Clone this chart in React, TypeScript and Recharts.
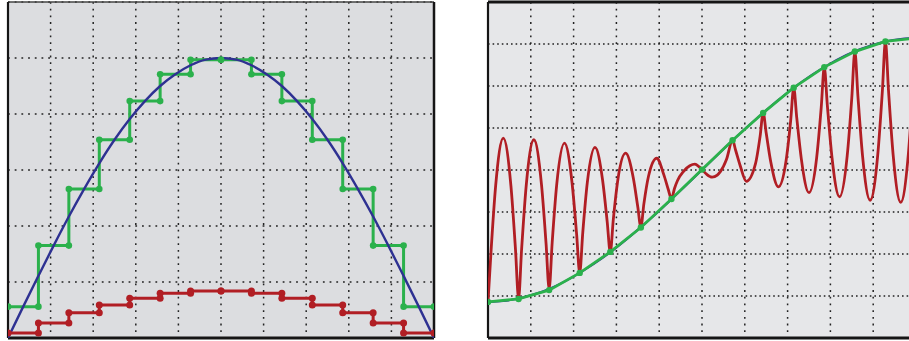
import React from 'react';
import { LineChart, Line, XAxis, YAxis, CartesianGrid, ReferenceLine } from 'recharts';

// ---- shared axis ticks (grid) ----
const gridX = [0, 1.4, 2.8, 4.2, 5.6, 7, 8.4, 9.8, 11.2, 12.6, 14];
const gridYLeft = [0, 1, 2, 3, 4, 5, 6];
const gridYRight = [0, 1, 2, 3, 4, 5, 6, 7, 8];

// ---- left panel ----
const sampleIdx = [0, 1, 2, 3, 4, 5, 6, 7, 8, 9, 10, 11, 12, 13, 14];
const heldLevels = [0.56, 1.65, 2.66, 3.54, 4.23, 4.71, 4.97, 4.97, 4.71, 4.23, 3.54, 2.66, 1.65, 0.56];
const smallLevels = [0.09, 0.27, 0.45, 0.59, 0.71, 0.8, 0.84, 0.84, 0.8, 0.71, 0.59, 0.45, 0.27, 0.09];
const halfX = [0, 0.5, 1, 1.5, 2, 2.5, 3, 3.5, 4, 4.5, 5, 5.5, 6, 6.5, 7, 7.5, 8, 8.5, 9, 9.5, 10, 10.5, 11, 11.5, 12, 12.5, 13, 13.5, 14];
const waveY = [0, 0.56, 1.11, 1.65, 2.17, 2.66, 3.12, 3.54, 3.91, 4.23, 4.5, 4.71, 4.87, 4.97, 5.0, 4.97, 4.87, 4.71, 4.5, 4.23, 3.91, 3.54, 3.12, 2.66, 2.17, 1.65, 1.11, 0.56, 0];

// ---- right panel ----
const riseSmoothY = [0.86, 0.88, 0.94, 1.04, 1.17, 1.34, 1.55, 1.78, 2.04, 2.33, 2.64, 2.96, 3.3, 3.65, 4.0, 4.35, 4.7, 5.04, 5.36, 5.67, 5.96, 6.22, 6.45, 6.66, 6.83, 6.96, 7.06, 7.12, 7.14];
const riseSamples = [0.86, 0.93, 1.14, 1.55, 2.05, 2.63, 3.31, 4.01, 4.71, 5.36, 5.96, 6.45, 6.82, 7.06, 7.14];
const ringX = [
  0, 0.1, 0.25, 0.5, 0.75, 0.9,
  1, 1.1, 1.25, 1.5, 1.75, 1.9,
  2, 2.1, 2.25, 2.5, 2.75, 2.9,
  3, 3.1, 3.25, 3.5, 3.75, 3.9,
  4, 4.1, 4.25, 4.5, 4.75, 4.9,
  5, 5.1, 5.25, 5.52, 5.75, 5.9,
  6, 6.1, 6.2, 6.4, 6.6, 6.77, 6.9,
  7, 7.15, 7.33, 7.5, 7.6, 7.8,
  8, 8.1, 8.25, 8.45, 8.75, 8.9,
  9, 9.1, 9.25, 9.5, 9.75, 9.9,
  10, 10.1, 10.25, 10.5, 10.75, 10.9,
  11, 11.1, 11.25, 11.5, 11.75, 11.9,
  12, 12.1, 12.25, 12.5, 12.75, 12.9,
  13, 13.1, 13.25, 13.5, 13.75, 13.9,
  14,
];
const ringY = [
  0.86, 2.07, 3.62, 4.76, 3.62, 2.1,
  0.94, 2.12, 3.63, 4.72, 3.65, 2.24,
  1.17, 2.28, 3.67, 4.64, 3.69, 2.46,
  1.55, 2.51, 3.71, 4.54, 3.75, 2.76,
  2.04, 2.83, 3.78, 4.4, 3.82, 3.12,
  2.64, 3.2, 3.85, 4.28, 3.89, 3.53,
  3.31, 3.56, 3.75, 3.97, 4.1, 4.14, 4.08,
  4.01, 3.9, 3.83, 3.88, 3.96, 4.25,
  4.71, 4.47, 4.1, 3.73, 4.15, 4.8,
  5.36, 4.88, 4.19, 3.6, 4.22, 5.17,
  5.96, 5.24, 4.26, 3.46, 4.29, 5.49,
  6.45, 5.54, 4.31, 3.36, 4.34, 5.72,
  6.82, 5.76, 4.35, 3.28, 4.37, 5.88,
  7.06, 5.9, 4.38, 3.23, 4.38, 5.94,
  7.14,
];

const GREEN = '#2bb14c';
const BLUE = '#2e3192';
const RED = '#b11e24';
const BORDER = '#151515';
const GRID = '#222';

const stepPoints = (levels: number[]) => {
  const pts: { x: number; y: number }[] = [];
  levels.forEach((v, i) => {
    pts.push({ x: sampleIdx[i], y: v });
    pts.push({ x: sampleIdx[i + 1], y: v });
  });
  return pts;
};

const heldData = stepPoints(heldLevels);
const smallData = stepPoints(smallLevels);
const waveData = halfX.map((x, i) => ({ x, y: waveY[i] }));
const riseSmoothData = halfX.map((x, i) => ({ x, y: riseSmoothY[i] }));
const riseSampleData = sampleIdx.map((x, i) => ({ x, y: riseSamples[i] }));
const ringData = ringX.map((x, i) => ({ x, y: ringY[i] }));

const xGen = (xMax: number) => (p: any) => {
  const o = p.offset;
  return gridX.map((v) => o.left + (v / xMax) * o.width);
};
const yGen = (ticks: number[], yMax: number) => (p: any) => {
  const o = p.offset;
  return ticks.map((v) => o.top + (1 - v / yMax) * o.height);
};

export default function App() {
  return (
    <div style={{ position: 'absolute', left: 0, top: 0, width: 909, height: 341, overflow: 'hidden', background: '#fff' }}>
      <div style={{ position: 'absolute', left: 0, top: 0 }}>
        <LineChart width={440} height={341} margin={{ top: 2, right: 6, bottom: 3, left: 8 }}>
          <CartesianGrid vertical={false} stroke={GRID} strokeWidth={1.5} strokeDasharray="1.8 4.9" fill="#dcdde0" fillOpacity={1} horizontalCoordinatesGenerator={yGen(gridYLeft, 6)} />
          <CartesianGrid horizontal={false} stroke={GRID} strokeWidth={1.5} strokeDasharray="1.8 4.9" verticalCoordinatesGenerator={xGen(14)} />
          <XAxis type="number" dataKey="x" domain={[0, 14]} ticks={gridX} tick={false} tickLine={false} height={0} axisLine={false} allowDataOverflow />
          <YAxis type="number" domain={[0, 6]} ticks={gridYLeft} tick={false} tickLine={false} width={0} axisLine={false} allowDataOverflow />
          <ReferenceLine y={6} stroke="#444" strokeWidth={1.5} />
          <ReferenceLine x={0} stroke={BORDER} strokeWidth={2.2} />
          <ReferenceLine x={14} stroke={BORDER} strokeWidth={2.5} />
          <ReferenceLine y={0} stroke={BORDER} strokeWidth={3} />
          <Line data={heldData} dataKey="y" type="linear" stroke={GREEN} strokeWidth={3} dot={{ r: 3.3, fill: GREEN, stroke: GREEN, strokeWidth: 0 }} isAnimationActive={false} />
          <Line data={waveData} dataKey="y" type="monotone" stroke={BLUE} strokeWidth={2.4} dot={false} isAnimationActive={false} />
          <Line data={smallData} dataKey="y" type="linear" stroke={RED} strokeWidth={3} dot={{ r: 3.5, fill: RED, stroke: RED, strokeWidth: 0 }} isAnimationActive={false} />
        </LineChart>
      </div>
      <div style={{ position: 'absolute', left: 480, top: 0 }}>
        <LineChart width={445} height={341} margin={{ top: 2, right: 9, bottom: 3, left: 8 }}>
          <CartesianGrid vertical={false} stroke={GRID} strokeWidth={1.5} strokeDasharray="1.6 3" fill="#e6e7e9" fillOpacity={1} horizontalCoordinatesGenerator={yGen(gridYRight, 8)} />
          <CartesianGrid horizontal={false} stroke={GRID} strokeWidth={1.5} strokeDasharray="1.8 4.9" verticalCoordinatesGenerator={xGen(14)} />
          <XAxis type="number" dataKey="x" domain={[0, 14]} ticks={gridX} tick={false} tickLine={false} height={0} axisLine={false} allowDataOverflow />
          <YAxis type="number" domain={[0, 8]} ticks={gridYRight} tick={false} tickLine={false} width={0} axisLine={false} allowDataOverflow />
          <ReferenceLine y={8} stroke={BORDER} strokeWidth={3} />
          <ReferenceLine x={0} stroke={BORDER} strokeWidth={2.2} />
          <ReferenceLine y={0} stroke={BORDER} strokeWidth={3} />
          <Line data={ringData} dataKey="y" type="monotone" stroke={RED} strokeWidth={2.8} dot={false} isAnimationActive={false} />
          <Line data={riseSmoothData} dataKey="y" type="monotone" stroke={BLUE} strokeWidth={2} dot={false} isAnimationActive={false} />
          <Line data={riseSampleData} dataKey="y" type="linear" stroke={GREEN} strokeWidth={2.8} dot={{ r: 3.2, fill: GREEN, stroke: GREEN, strokeWidth: 0 }} isAnimationActive={false} />
        </LineChart>
      </div>
    </div>
  );
}
